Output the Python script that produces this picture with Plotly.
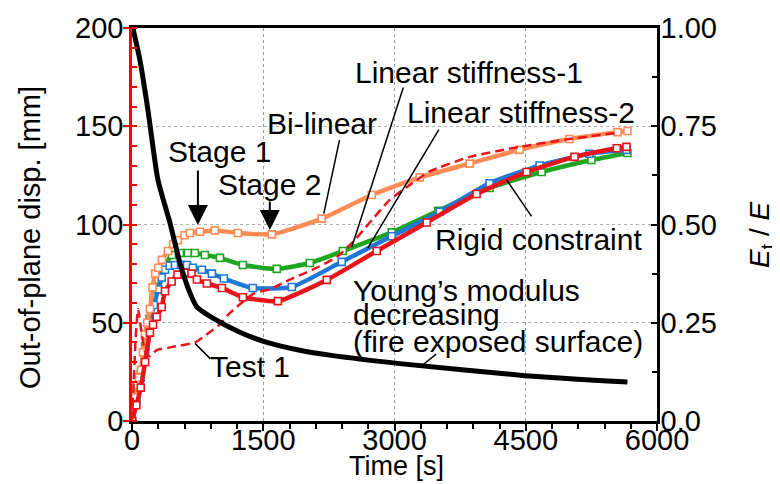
import plotly.graph_objects as go

# ---------------- data ----------------
bilinear_t = [0, 35, 55, 80, 103, 125, 148, 175, 205, 235, 265, 300, 342, 411, 470, 525, 600, 662, 776, 947, 1210, 1598, 2169, 2740, 3288, 3859, 4429, 5000, 5548, 5662]
bilinear_v = [0, 12, 18, 22, 26, 35, 44, 50, 57, 68, 75, 78, 82, 86.5, 90, 92, 94.5, 95.7, 96.3, 97, 95.7, 95, 103, 115, 124, 131, 138, 143.5, 147, 147.6]

lin1_t = [0, 50, 100, 150, 200, 250, 300, 377, 457, 548, 639, 719, 833, 1005, 1267, 1655, 2032, 2409, 2968, 3500, 4087, 4681, 5251, 5662]
lin1_v = [0, 12, 24, 38, 52, 64, 72, 79, 84.5, 85.5, 85.5, 85.5, 84.5, 83, 79.4, 77.4, 80.4, 86.5, 96, 107, 118.6, 126.7, 132.8, 136.4]

lin2_t = [0, 50, 100, 150, 200, 250, 300, 340, 377, 430, 491, 560, 628, 696, 799, 913, 1050, 1381, 1827, 2397, 2968, 3516, 4087, 4658, 5228, 5651]
lin2_v = [0, 11, 22, 35, 48, 59, 67, 73, 77, 79, 79.4, 79.5, 79.4, 78, 77, 75, 72.5, 67.7, 68.2, 81, 94, 106.5, 121, 130, 136, 138]

rigid_t = [0, 50, 100, 150, 205, 240, 282, 339, 377, 453, 520, 600, 680, 742, 856, 1027, 1267, 1667, 2226, 2797, 3368, 3938, 4509, 5057, 5540, 5651]
rigid_v = [0, 8, 17, 30, 45, 49, 53, 58, 66, 71, 74.5, 75.5, 75, 72, 70, 67.7, 63, 61, 71.8, 86.5, 101, 115.5, 126.7, 134.4, 138.8, 139.5]

test1_t = [0, 20, 45, 70, 100, 150, 200, 280, 500, 720, 850, 1000, 1119, 1393, 1575, 1804, 2066, 2340, 2523, 2717, 2945, 3139, 3402, 3859, 4429, 5000, 5537]
test1_v = [0, 20, 45, 57, 48, 35, 33, 36, 38, 40, 44, 49, 55, 65, 67, 72, 77, 83.5, 91, 101, 112.5, 119, 127, 134.4, 139.5, 143.5, 146.6]

young_t = [10, 91, 183, 297, 434, 548, 662, 742, 925, 1233, 1541, 1918, 2280, 3060, 4464, 5662]
young_v = [1.0, 0.918, 0.79, 0.613, 0.504, 0.402, 0.326, 0.29, 0.262, 0.226, 0.2, 0.18, 0.167, 0.146, 0.116, 0.099]

x_ticks = [0, 1500, 3000, 4500, 6000]
y_ticks = [0, 50, 100, 150, 200]
y2_ticks = [0, 0.25, 0.5, 0.75, 1.0]
y2_labels = ["0.0", "0.25", "0.50", "0.75", "1.00"]

# ---------------- styles ----------------
ORANGE = "#FF8C55"
GREEN = "#1FA51F"
BLUE = "#1F78D6"
RED = "#E8141C"
FONT = "Liberation Sans, Arial, sans-serif"
TXT = 30
TICK = 29

fig = go.Figure()

def model(t, v, color):
    fig.add_trace(go.Scatter(
        x=t, y=v, mode="lines+markers",
        line=dict(color=color, width=4.5, shape="spline", smoothing=0.5),
        marker=dict(symbol="square", size=7, color="white", line=dict(color=color, width=1.6)),
        showlegend=False, hoverinfo="skip"))

model(lin1_t, lin1_v, GREEN)
model(lin2_t, lin2_v, BLUE)
model(bilinear_t, bilinear_v, ORANGE)
model(rigid_t, rigid_v, RED)

fig.add_trace(go.Scatter(
    x=test1_t, y=test1_v, mode="lines",
    line=dict(color=RED, width=2.5, dash="9px,5px", shape="spline", smoothing=0.5),
    showlegend=False, hoverinfo="skip"))

fig.add_trace(go.Scatter(
    x=young_t, y=young_v, mode="lines", yaxis="y2",
    line=dict(color="black", width=5, shape="spline", smoothing=0.6),
    showlegend=False, hoverinfo="skip"))

# ---------------- layout ----------------
# target plot-area edges in the screenshot; the page body adds an 8px offset
OFF = 8
SL, SR, ST, SB = 132, 657, 28, 421
W, H = 780, 484

fig.update_layout(
    width=W, height=H, autosize=False,
    margin=dict(l=SL - OFF, r=W - (SR - OFF), t=ST - OFF, b=H - (SB - OFF), pad=0, autoexpand=False),
    plot_bgcolor="white", paper_bgcolor="white",
    font=dict(family=FONT, size=TICK, color="black"),
    xaxis=dict(
        range=[0, 6000], tickvals=x_ticks, ticks="outside", ticklen=7, tickwidth=2, tickcolor="black",
        showline=True, linecolor="black", linewidth=3, mirror=True, automargin=False,
        showgrid=True, gridcolor="#9a9a9a", griddash="dot", gridwidth=1,
        zeroline=False, tickfont=dict(size=TICK), ticklabelstandoff=-16,
        minor=dict(tickmode="linear", tick0=0, dtick=300, ticks="outside", ticklen=5, tickwidth=2, tickcolor="black", showgrid=False),
    ),
    yaxis=dict(
        range=[0, 200], tickvals=y_ticks, ticks="outside", ticklen=6, tickwidth=2, tickcolor="#FF0000",
        showline=True, linecolor="#FF0000", linewidth=2.5, automargin=False,
        showgrid=True, gridcolor="#b0b0b0", griddash="dot", gridwidth=1,
        zeroline=False, tickfont=dict(size=TICK), ticklabelstandoff=-6,
        minor=dict(tickmode="linear", tick0=0, dtick=10, ticks="inside", ticklen=5, tickwidth=1.5, tickcolor="#FF0000", showgrid=False),
    ),
    yaxis2=dict(
        range=[0, 1], overlaying="y", side="right", anchor="x", automargin=False,
        tickvals=y2_ticks, ticktext=y2_labels, ticks="inside", ticklen=6, tickwidth=2, tickcolor="black",
        showline=True, linecolor="black", linewidth=2.5, showgrid=False, zeroline=False,
        tickfont=dict(size=TICK), ticklabelstandoff=-5,
        minor=dict(tickvals=[0.125, 0.375, 0.625, 0.875], ticks="inside", ticklen=5, tickwidth=2, tickcolor="black", showgrid=False),
    ),
)

def px(xs):
    return (xs - SL) / (SR - SL)

def py(ys):
    return (SB - ys) / (SB - ST)

def label(text, x, y, size=TXT, xanchor="center", angle=0):
    fig.add_annotation(text=text, x=px(x), y=py(y), xref="paper", yref="paper",
                       showarrow=False, xanchor=xanchor, yanchor="middle", textangle=angle,
                       font=dict(family=FONT, size=size, color="black"))

def pointer(t, v, ax, ay, head=0, yref="y"):
    fig.add_annotation(text="", x=t, y=v, xref="x", yref=yref, ax=ax, ay=ay,
                       showarrow=True, arrowhead=head, arrowsize=2.0 if head else 1,
                       arrowwidth=2 if head else 1.5, arrowcolor="black", standoff=0)

# axis titles
label("Out-of-plane disp. [mm]", 30, 238, size=29, angle=-90)
label("Time [s]", 396, 466, size=27)
label("<i>E</i><sub>t</sub> / <i>E</i>", 761, 235, size=28, angle=-90)

# annotations
label("Stage 1", 219, 151)
label("Stage 2", 269, 184)
label("Bi-linear", 322, 124)
label("Linear stiffness-1", 469, 72)
label("Linear stiffness-2", 521, 112)
label("Rigid constraint", 538, 240)
label("Young\u2019s modulus", 351, 290, xanchor="left")
label("decreasing", 351, 315, xanchor="left")
label("(fire exposed surface)", 351, 341, xanchor="left")
label("Test 1", 250, 366)

pointer(753, 99.8, 0, -56, head=2)
pointer(1575, 97.2, 0, -30, head=2)
pointer(2192, 105.5, 16, -75)
pointer(2512, 88.6, 52, -161)
pointer(2694, 88.0, 72, -120)
pointer(4281, 122.7, 26, 38)
pointer(719, 39.5, 17, 17)
pointer(3322, 28.5, 15, -12)

fig.write_html("out.html")
